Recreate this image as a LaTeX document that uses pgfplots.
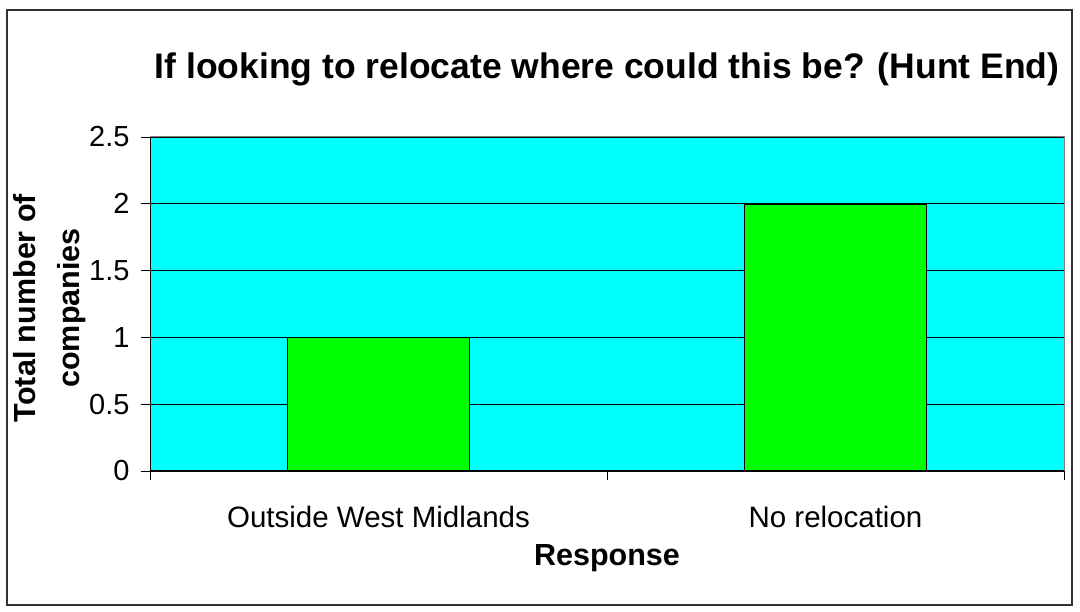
\documentclass[border=0pt]{standalone}
\usepackage{pgfplots}
\pgfplotsset{compat=1.18}
\usepackage{fontspec}
\setmainfont{Liberation Sans}
\definecolor{plotbg}{RGB}{0,255,255}
\definecolor{barfill}{RGB}{0,255,0}
\begin{document}
\begin{tikzpicture}[x=1pt,y=1pt]
\path[use as bounding box] (0,0) rectangle (1080,612);
\draw[line width=1.2pt, black!80] (7,7) rectangle (1072,602);
\begin{axis}[
  at={(150pt,141pt)}, anchor=south west,
  scale only axis, width=914pt, height=334pt,
  xmin=-0.5, xmax=1.5, ymin=0, ymax=2.5,
  ytick={0,0.5,1,1.5,2,2.5},
  xtick={-0.5,0.5,1.5}, xticklabels={},
  extra x ticks={0,1},
  extra x tick labels={Outside West Midlands, No relocation},
  extra x tick style={major tick length=0pt, xticklabel style={yshift=-32pt}},
  tick align=outside, major tick length=9pt, tick pos=left,
  tick style={black, line width=0.8pt},
  ymajorgrids, major grid style={black, line width=0.8pt},
  axis background/.style={fill=plotbg},
  axis line style={gray, line width=1pt},
  ticklabel style={font=\fontsize{29.5}{34}\selectfont},
  yticklabel style={font=\fontsize{29}{34}\selectfont, xshift=-8pt},
  /pgf/number format/assume math mode=true,
  ybar, bar width=182pt,
]
\addplot[fill=barfill, draw=black, line width=1.5pt, bar shift=0pt] coordinates {(0,1) (1,2)};
\draw[black, line width=1pt] (rel axis cs:0,1) -- (rel axis cs:0,0) -- (rel axis cs:1,0);
\end{axis}
\node[font=\bfseries\fontsize{35.5}{40}\selectfont] at (607,543) {If looking to relocate where could this be? (Hunt End)};
\node[font=\bfseries\fontsize{30.5}{36}\selectfont] at (607,54) {Response};
\node[font=\bfseries\fontsize{30.5}{44}\selectfont, rotate=90, align=center] at (50,304) {Total number of\\companies};
\end{tikzpicture}
\end{document}
